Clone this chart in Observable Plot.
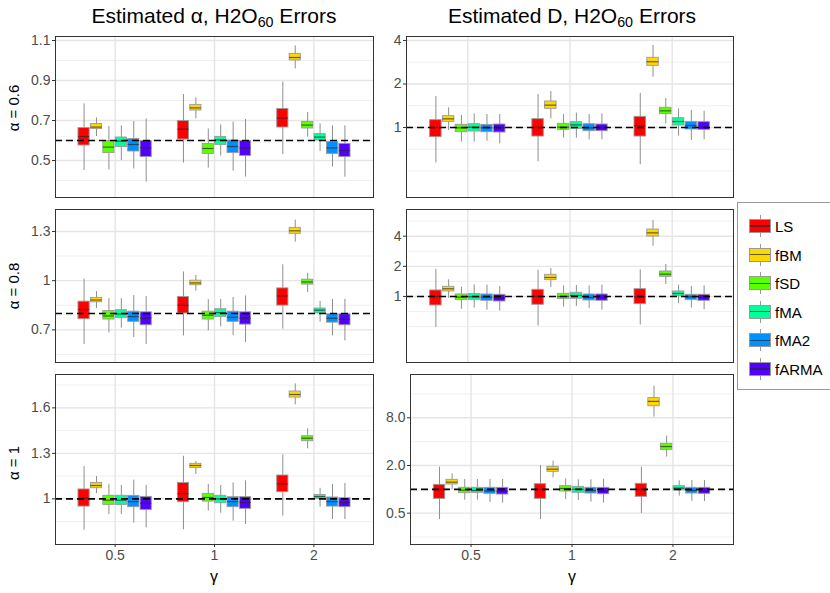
<!DOCTYPE html>
<html><head><meta charset="utf-8">
<script src="https://cdn.jsdelivr.net/npm/d3@7"></script>
<script src="https://cdn.jsdelivr.net/npm/@observablehq/plot@0.6"></script>
<style>
body{margin:0;background:#fff;font-family:"Liberation Sans",Arial,sans-serif;}
#root{position:relative;width:830px;height:593px;overflow:hidden;background:#fff;}
.abs{position:absolute;}
.title{font-size:21px;color:#000;white-space:nowrap;transform:translateX(-50%);line-height:1;}
.title sub{font-size:0.68em;vertical-align:-0.25em;}
.ytitle{font-size:15px;color:#000;white-space:nowrap;transform:translate(-50%,-50%) rotate(-90deg);line-height:1;}
.xtitle{font-size:16px;color:#000;transform:translate(-50%,-50%);line-height:1;}
.leg{position:absolute;left:737px;top:202px;width:100px;height:188px;border:1px solid #9a9a9a;box-sizing:border-box;background:#fff;}
.key{position:absolute;width:22px;height:14px;box-sizing:border-box;border:1px solid #9a9a9a;}
.kmed{position:absolute;left:0;right:0;top:50%;height:1.2px;margin-top:-0.6px;background:rgba(40,40,40,0.7);}
.kwh{position:absolute;width:1px;height:22px;background:#9a9a9a;}
.klab{position:absolute;font-size:15px;color:#000;transform:translateY(-50%);line-height:1;white-space:nowrap;}
</style></head><body><div id="root"></div>
<script>
// ---- data ----
const methods = ["LS","fBM","fSD","fMA","fMA2","fARMA"];
const colors = ["#FF0000","#FFD700","#5CFF00","#00FF9C","#0090FF","#5200FF"];
const gammaLabels = ["0.5","1","2"];
// rows: gamma 0.5, 1, 2 x methods; each [lower whisker, Q1, median, Q3, upper whisker]
const alphaEst06 = [
  [0.45,0.575,0.62,0.662,0.783],[0.62,0.657,0.667,0.682,0.713],[0.453,0.537,0.567,0.597,0.67],
  [0.5,0.567,0.597,0.615,0.673],[0.458,0.545,0.58,0.608,0.695],[0.392,0.517,0.563,0.597,0.708],
  [0.487,0.605,0.657,0.697,0.83],[0.708,0.75,0.763,0.778,0.813],[0.462,0.533,0.56,0.583,0.657],
  [0.522,0.578,0.603,0.618,0.678],[0.447,0.537,0.57,0.6,0.692],[0.417,0.523,0.562,0.597,0.705],
  [0.53,0.665,0.712,0.758,0.892],[0.958,1.0,1.015,1.033,1.073],[0.617,0.66,0.677,0.693,0.74],
  [0.545,0.6,0.617,0.632,0.683],[0.467,0.533,0.563,0.592,0.673],[0.417,0.517,0.55,0.583,0.673]
];
const alphaEst08 = [
  [0.611,0.765,0.824,0.872,1.01],[0.83,0.868,0.882,0.895,0.933],[0.682,0.763,0.785,0.815,0.89],
  [0.71,0.773,0.797,0.82,0.89],[0.653,0.749,0.781,0.811,0.909],[0.611,0.728,0.771,0.807,0.903],
  [0.663,0.8,0.85,0.9,1.053],[0.937,0.972,0.986,1.0,1.032],[0.694,0.763,0.789,0.811,0.884],
  [0.718,0.779,0.805,0.826,0.886],[0.665,0.749,0.777,0.811,0.897],[0.623,0.732,0.771,0.807,0.907],
  [0.704,0.848,0.907,0.953,1.097],[1.235,1.286,1.304,1.322,1.369],[0.927,0.976,0.992,1.006,1.045],
  [0.747,0.8,0.82,0.83,0.874],[0.663,0.744,0.771,0.795,0.886],[0.633,0.728,0.765,0.795,0.886]
];
const alphaEst10 = [
  [0.793,0.949,1.004,1.062,1.213],[1.035,1.07,1.088,1.105,1.147],[0.897,0.96,0.991,1.02,1.095],
  [0.897,0.96,0.991,1.02,1.088],[0.84,0.945,0.982,1.02,1.123],[0.809,0.927,0.971,1.013,1.088],
  [0.796,0.978,1.035,1.105,1.281],[1.16,1.204,1.22,1.231,1.246],[0.919,0.982,1.009,1.033,1.095],
  [0.905,0.971,1.0,1.02,1.088],[0.853,0.945,0.982,1.011,1.105],[0.831,0.934,0.976,1.011,1.119],
  [0.886,1.044,1.099,1.154,1.29],[1.62,1.668,1.688,1.708,1.758],[1.33,1.38,1.4,1.413,1.462],
  [0.945,1.0,1.015,1.026,1.07],[0.864,0.949,0.982,1.009,1.095],[0.864,0.945,0.976,1.004,1.101]
];
const dEst06 = [
  [0.57,0.857,1.0,1.124,1.64],[0.953,1.094,1.148,1.198,1.368],[0.792,0.928,0.995,1.043,1.211],
  [0.792,0.938,1.005,1.054,1.243],[0.804,0.928,0.995,1.043,1.23],[0.771,0.923,0.995,1.049,1.23],
  [0.579,0.866,1.0,1.142,1.69],[1.148,1.346,1.427,1.514,1.775],[0.844,0.963,1.005,1.06,1.23],
  [0.844,0.979,1.043,1.089,1.257],[0.822,0.943,0.995,1.054,1.23],[0.822,0.943,1.0,1.049,1.243],
  [0.552,0.866,1.027,1.185,1.72],[2.23,2.67,2.85,3.035,3.69],[1.06,1.237,1.304,1.368,1.588],
  [0.871,1.032,1.1,1.16,1.346],[0.813,0.969,1.032,1.094,1.311],[0.822,0.963,1.005,1.089,1.297]
];
const dEst08 = [
  [0.49,0.813,1.0,1.148,1.86],[0.955,1.122,1.193,1.249,1.466],[0.747,0.919,0.985,1.047,1.239],
  [0.765,0.926,0.992,1.055,1.307],[0.73,0.905,0.985,1.047,1.297],[0.714,0.891,0.97,1.039,1.258],
  [0.506,0.826,1.0,1.166,1.83],[1.23,1.455,1.547,1.645,1.9],[0.783,0.941,1.0,1.063,1.278],
  [0.795,0.948,1.023,1.088,1.288],[0.759,0.912,0.977,1.047,1.278],[0.73,0.905,0.977,1.047,1.297],
  [0.518,0.839,0.992,1.183,1.845],[3.18,3.97,4.32,4.66,5.73],[1.317,1.571,1.67,1.776,2.086],
  [0.845,1.015,1.071,1.122,1.297],[0.765,0.919,0.992,1.039,1.258],[0.736,0.905,0.977,1.039,1.278]
];
const dEst10 = [
  [0.416,0.758,0.995,1.14,1.905],[0.995,1.151,1.232,1.318,1.569],[0.729,0.894,0.976,1.045,1.331],
  [0.729,0.903,0.967,1.045,1.331],[0.683,0.876,0.958,1.045,1.331],[0.67,0.859,0.949,1.045,1.331],
  [0.416,0.758,0.995,1.162,2.0],[1.398,1.663,1.797,1.924,2.27],[0.744,0.939,1.024,1.097,1.357],
  [0.722,0.903,1.0,1.075,1.318],[0.69,0.885,0.967,1.045,1.318],[0.67,0.867,0.949,1.045,1.344],
  [0.495,0.804,0.995,1.174,1.905],[8.16,11.2,12.9,14.2,20.1],[2.55,3.15,3.47,3.76,4.69],
  [0.82,0.967,1.034,1.097,1.281],[0.707,0.885,0.967,1.045,1.29],[0.70,0.876,0.958,1.045,1.29]
];
const alphaTrue = [0.6, 0.8, 1];
const rowLabels = ["α = 0.6","α = 0.8","α = 1"];
const alphaTicks = [[0.5,0.7,0.9,1.1],[0.7,1,1.3],[1,1.3,1.6]];
const alphaMinor = [[0.4,0.6,0.8,1.0],[0.55,0.85,1.15],[0.85,1.15,1.45,1.75]];
const dTicks = [[1,2,4],[1,2,4],[0.5,2,8]];
const dMinor = [[0.5,0.7071,1.4142,2.8284],[0.5,0.7071,1.4142,2.8284,5.6569],[0.25,1,4,16]];

// ---- layout ----
const root = document.getElementById("root");
const font = '"Liberation Sans", Arial, sans-serif';

function panel(cfg){
  const rows = cfg.data.map((v,i)=>{
    const g = Math.floor(i/6), m = i%6;
    return {g, m, method: methods[m], fill: colors[m], pos: g+1+(m-2.5)*0.125,
            lo:v[0], q1:v[1], med:v[2], q3:v[3], hi:v[4]};
  });
  const hw = 0.125*0.9/2;
  const ML = 45, MR = 2, MT = 2, MB = cfg.bottom ? 34 : 2;
  const unitPx = (cfg.x1-cfg.x0)/3.2;
  const tickLen = 3/unitPx;
  const marks = [
    Plot.ruleY(cfg.minor, {stroke:"#eeeeee", strokeWidth:0.9}),
    Plot.ruleY(cfg.ticks, {stroke:"#e5e5e5", strokeWidth:1.4}),
    Plot.ruleX([1,2,3], {stroke:"#e5e5e5", strokeWidth:1.4}),
    Plot.ruleX(rows, {x:"pos", y1:"lo", y2:"hi", stroke:"#8f8f8f", strokeWidth:1}),
    Plot.rect(rows, {x1:d=>d.pos-hw, x2:d=>d.pos+hw, y1:"q1", y2:"q3", fill:"fill", stroke:"#9a9a9a", strokeWidth:0.9}),
    Plot.ruleY(rows, {y:"med", x1:d=>d.pos-hw, x2:d=>d.pos+hw, stroke:"#282828", strokeOpacity:0.7, strokeWidth:1.2}),
    Plot.ruleY([cfg.truth], {stroke:"#000", strokeWidth:1.6, strokeDasharray:"7,4"}),
    // y axis: tick marks and labels
    Plot.ruleY(cfg.ticks, {y:d=>d, x1:0.4-tickLen, x2:0.4, stroke:"#333", strokeWidth:1}),
    Plot.text(cfg.ticks, {y:d=>d, text:d=>cfg.fmt(d), frameAnchor:"left", dx:-5, textAnchor:"end", fontSize:14, fill:"#4d4d4d"}),
    Plot.frame({stroke:"#333", strokeWidth:1})
  ];
  if (cfg.bottom) marks.push(Plot.axisX({ticks:[1,2,3], tickFormat:d=>gammaLabels[d-1], tickSize:3, tickPadding:3, label:null, fontSize:14, fill:"#4d4d4d", stroke:"#333"}));
  const p = Plot.plot({
    width: (cfg.x1-cfg.x0)+ML+MR, height: (cfg.y1-cfg.y0)+MT+MB,
    marginLeft:ML, marginRight:MR, marginTop:MT, marginBottom:MB,
    x: {type:"linear", domain:[0.4,3.6], axis: cfg.bottom ? undefined : null},
    y: {type: cfg.log ? "log" : "linear", domain: cfg.domain, axis: null},
    color: {type:"identity"},
    style: {background:"transparent", fontFamily: font, fontSize:"14px", color:"#4d4d4d", overflow:"visible"},
    marks
  });
  p.style.position = "absolute";
  p.style.left = (cfg.x0-ML)+"px";
  p.style.top = (cfg.y0-MT)+"px";
  root.appendChild(p);
}

const rowsY = [[36,197],[209,362],[374,544]];
const leftDomains = [[0.315,1.12],[0.501,1.434],[0.699,1.82]];
const rightDomains = [[0.328,4.26],[0.219,7.39],[0.201,28.2]];
const alphaData = [alphaEst06, alphaEst08, alphaEst10];
const dData = [dEst06, dEst08, dEst10];
for (let r=0;r<3;r++){
  panel({data: alphaData[r], x0:55, x1:373, y0:rowsY[r][0], y1:rowsY[r][1], domain:leftDomains[r], log:false,
         ticks: alphaTicks[r], minor: alphaMinor[r], truth: alphaTrue[r], fmt: d=>String(d), bottom: r===2});
  panel({data: dData[r], x0: r===2?410:406, x1:733, y0:rowsY[r][0], y1:rowsY[r][1], domain:rightDomains[r], log:true,
         ticks: dTicks[r], minor: dMinor[r], truth: 1, fmt: r===2 ? d3.format(".1f") : (d=>String(d)), bottom: r===2});
}

function addDiv(cls, html, left, top){
  const d = document.createElement("div");
  d.className = "abs "+cls; d.innerHTML = html;
  d.style.left = left+"px"; d.style.top = top+"px";
  root.appendChild(d); return d;
}
addDiv("title", "Estimated α, H2O<sub>60</sub> Errors", 214, 5);
addDiv("title", "Estimated D, H2O<sub>60</sub> Errors", 572, 5);
const ytCenters = [108, 286, 463];
rowLabels.forEach((t,i)=>addDiv("ytitle", t, 13, ytCenters[i]));
addDiv("xtitle", "γ", 214, 577);
addDiv("xtitle", "γ", 572, 577);

// legend
const leg = document.createElement("div"); leg.className = "leg"; root.appendChild(leg);
methods.forEach((m,i)=>{
  const cy = 226 + i*28.6;
  const wh = document.createElement("div"); wh.className="kwh";
  wh.style.left = (760-0.5)+"px"; wh.style.top = (cy-11)+"px"; root.appendChild(wh);
  const k = document.createElement("div"); k.className="key abs";
  k.style.left = "749px"; k.style.top = (cy-7)+"px"; k.style.background = colors[i];
  const md = document.createElement("div"); md.className="kmed"; k.appendChild(md);
  root.appendChild(k);
  const l = document.createElement("div"); l.className="klab"; l.textContent = m;
  l.style.left = "775px"; l.style.top = cy+"px"; root.appendChild(l);
});
</script></body></html>
